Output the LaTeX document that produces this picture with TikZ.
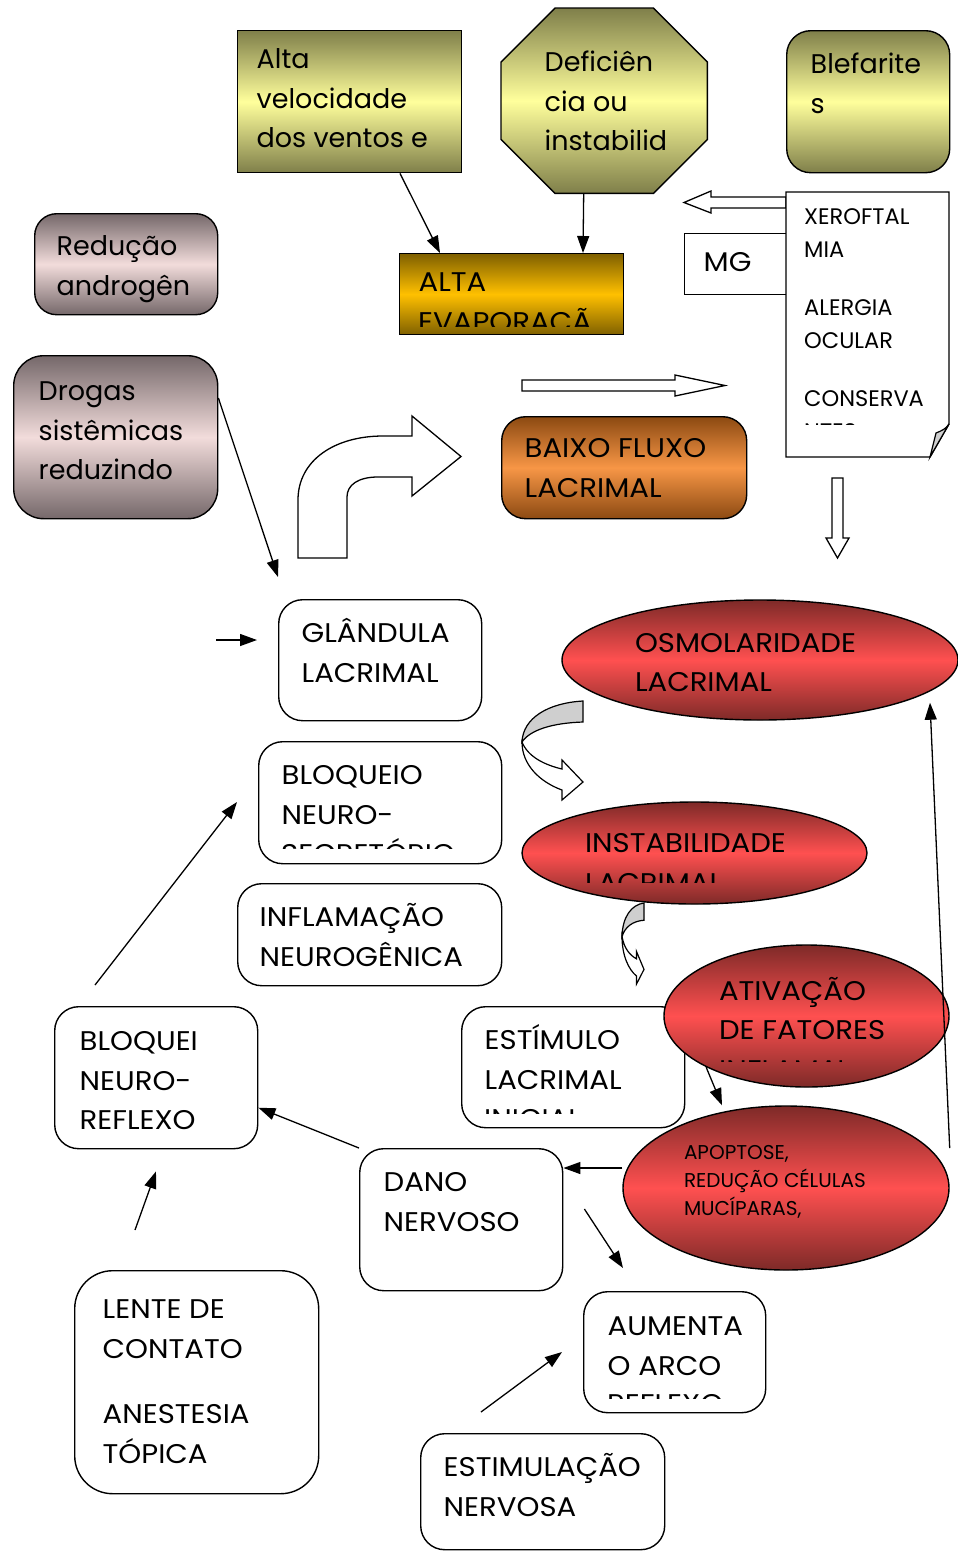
\documentclass[tikz,border=0pt]{standalone}
\usepackage{fontspec}
\setmainfont{Poppins}
\newfontfamily\widefont{Poppins}[FakeStretch=1.08]
\usetikzlibrary{arrows.meta,shapes.geometric,backgrounds}
\definecolor{olvdark}{HTML}{7F7F4A}
\definecolor{olvlight}{HTML}{FFFF9C}
\definecolor{golddark}{HTML}{7F6000}
\definecolor{goldlight}{HTML}{FFC000}
\definecolor{pinkdark}{HTML}{75686A}
\definecolor{pinklight}{HTML}{F2DCDB}
\definecolor{orgdark}{HTML}{8C4A12}
\definecolor{orglight}{HTML}{F79646}
\definecolor{reddark}{HTML}{7E2A28}
\definecolor{redlight}{HTML}{FF5050}
\definecolor{foldgrey}{HTML}{CFCFCF}

\newcommand\fmain{\widefont\fontsize{27}{39.5}\selectfont}
\newcommand\flow{\normalfont\fontsize{27}{39.5}\selectfont}
\newcommand\fdoc{\normalfont\fontsize{22.5}{33}\selectfont}
\newcommand\fapo{\normalfont\fontsize{20}{28}\selectfont}
% text block of a box: [first line height]{width}{height}{lines}
\newcommand\bx[4][30pt]{\parbox[t][#3][t]{#2}{\raggedright\rule{0pt}{#1}#4}}
% a line that the box cuts off: [font]{name}{x}{baseline}{cut}{width}{text}
\newcommand\cutline[7][\fmain]{%
  \begin{scope}
    \clip (#3-4,#4-40) rectangle (#3+#6,#5);
    \node[font=#1,anchor=base west,inner sep=0pt] (#2) at (#3,#4) {#7};
  \end{scope}}
% ribbon arrow that turns back, drawn from its upper end
\newcommand\curlarrow{%
  \filldraw[fill=foldgrey] (0,0) .. controls (-35,2) and (-60,17) .. (-61,41)
     .. controls (-53,29) and (-31,22) .. (0,21) -- cycle;
  \filldraw[fill=white] (-61,41) .. controls (-61,64) and (-43,81) .. (-21,89)
     -- (-21,99) -- (0,81) -- (-21,59) -- (-21,68)
     .. controls (-38,64) and (-55,56) .. (-61,41) -- cycle;}

\begin{document}
\begin{tikzpicture}[x=1pt, y=-1pt, font=\fmain,
    >={Triangle[length=17pt,width=12pt]},
    box/.style={draw=black, line width=1.4pt, anchor=north west, inner sep=0pt},
    rbox/.style={box, rounded corners=24pt},
    oval/.style={ellipse, draw=black, line width=1.4pt, inner sep=0pt,
                 top color=reddark, bottom color=reddark, middle color=redlight},
    filolive/.style={top color=olvdark, bottom color=olvdark, middle color=olvlight},
    filgold/.style={top color=golddark, bottom color=golddark, middle color=goldlight},
    filpink/.style={top color=pinkdark, bottom color=pinkdark, middle color=pinklight},
    filorange/.style={top color=orgdark, bottom color=orgdark, middle color=orglight},
    conn/.style={->, line width=1.3pt},
    blockarr/.style={draw=black, line width=1.3pt, fill=white}]

  \useasboundingbox (0,0) rectangle (958,1551);
  \begin{scope}[on background layer]
    \fill[white] (0,0) rectangle (958,1551);
  \end{scope}

  % ---------------- causes at the top
  \node[box, filolive, font=\flow, inner xsep=19pt, inner ysep=8pt] (vento) at (237,30)
       {\bx{186pt}{126pt}{Alta\\velocidade\\dos~ventos~e}};
  \node[box, draw=none, font=\flow, inner xsep=43pt, inner ysep=33pt] (defic) at (501,8)
       {\bx{119pt}{118pt}{Deficiên\\cia~ou\\instabilid}};
  \begin{scope}[on background layer]
    \shadedraw[filolive, line width=1.4pt]
      ([xshift=54pt]defic.north west) -- ([xshift=-54pt]defic.north east)
      -- ([yshift=-54pt]defic.north east) -- ([yshift=54pt]defic.south east)
      -- ([xshift=-54pt]defic.south east) -- ([xshift=54pt]defic.south west)
      -- ([yshift=54pt]defic.south west) -- ([yshift=-54pt]defic.north west) -- cycle;
  \end{scope}
  \node[rbox, filolive, font=\flow, inner xsep=24pt, inner ysep=13pt] (blefa) at (786,30)
       {\bx{115pt}{116pt}{Blefarite\\s}};

  \node[rbox, rounded corners=22pt, filpink, font=\flow, inner xsep=22pt, inner ysep=12pt] (andro) at (34,213)
       {\bx{139pt}{77pt}{Redução\\androgên}};
  \node[rbox, rounded corners=30pt, filpink, font=\flow, inner xsep=25pt, inner ysep=15pt] (drogas) at (13,355)
       {\bx{154pt}{133pt}{Drogas\\sistêmicas\\reduzindo}};

  \node[box, filgold, inner xsep=19pt, inner ysep=8pt] (evap) at (399,253)
       {\bx{186pt}{65pt}{ALTA}};
  \cutline{evapcut}{418}{331}{326}{200}{EVAPORAÇÃ}

  \node[box, fill=white, inner xsep=19pt, inner ysep=8pt] (mg) at (684,233)
       {\bx{64pt}{45pt}{MG}};

  % ---------------- the page of local causes
  \draw[blockarr] (786,197) -- (711,197) -- (711,191) -- (684,202.5)
       -- (711,213) -- (711,208) -- (786,208) -- cycle;
  \draw[line width=1.4pt, fill=white] (786,192) -- (949,192) -- (949,424)
       -- (930,457) -- (786,457) -- cycle;
  \filldraw[fill=foldgrey, line width=1.2pt] (930,457) -- (936,433)
       .. controls (941,431) and (946,429) .. (949,424) -- cycle;
  \node[anchor=north west, inner xsep=18pt, inner ysep=8pt, font=\fdoc] (docu) at (786,192)
       {\bx[24pt]{127pt}{249pt}{XEROFTAL\\MIA\\[25pt]ALERGIA\\OCULAR\\[25pt]CONSERVA}};
  \cutline[\fdoc]{docucut}{804}{439}{424}{130}{NTES}

  \draw[blockarr] (522,380) -- (675,380) -- (675,375) -- (725,385.5)
       -- (675,396) -- (675,391) -- (522,391) -- cycle;
  \draw[blockarr] (832,478) -- (843,478) -- (843,538) -- (849,538)
       -- (837.5,558) -- (826,538) -- (832,538) -- cycle;
  \draw[blockarr] (298,558) -- (298,500) .. controls (298,460) and (335,436) .. (383,436)
       -- (412,436) -- (412,416) -- (461,456.5) -- (412,496) -- (412,477) -- (378,477)
       .. controls (358,477) and (347,485) .. (347,497) -- (347,558) -- cycle;

  \node[rbox, filorange, inner xsep=23pt, inner ysep=11pt] (fluxo) at (501,416)
       {\bx{199pt}{80pt}{BAIXO~FLUXO\\LACRIMAL}};

  % ---------------- middle
  \node[rbox, fill=white, inner xsep=23pt, inner ysep=13pt] (glan) at (278,599)
       {\bx{157pt}{95pt}{GLÂNDULA\\LACRIMAL}};
  \node[rbox, fill=white, inner xsep=23pt, inner ysep=13pt] (bsecr) at (258,741)
       {\bx{197pt}{96pt}{BLOQUEIO\\NEURO-}};
  \cutline{bsecrcut}{281}{863}{848}{210}{SECRETÓRIO}
  \node[rbox, fill=white, inner xsep=22pt, inner ysep=13pt] (infla) at (237,883)
       {\bx{220pt}{76pt}{INFLAMAÇÃO\\NEUROGÊNICA}};

  \node[oval, minimum width=396pt, minimum height=120pt] (osmo) at (760,660)
       {\bx{250pt}{76pt}{OSMOLARIDADE\\LACRIMAL}};
  \begin{scope}[shift={(583,701)}, line width=1.2pt]
    \curlarrow
  \end{scope}
  \node[oval, minimum width=345pt, minimum height=102pt] (insta) at (694.5,853)
       {\bx{219pt}{62pt}{INSTABILIDADE}};
  \cutline{instacut}{585}{892}{882}{200}{LACRIMAL}
  \begin{scope}[shift={(644,903)}, xscale=0.36, yscale=0.82, line width=1.2pt]
    \curlarrow
  \end{scope}

  \node[rbox, fill=white, inner xsep=23pt, inner ysep=13pt] (estim) at (461,1006)
       {\bx{177pt}{95pt}{ESTÍMULO\\LACRIMAL}};
  \cutline{estimcut}{484}{1128}{1113}{190}{INICIAL}
  \node[oval, minimum width=285pt, minimum height=142pt] (ativa) at (806.5,1016)
       {\bx{175pt}{92pt}{ATIVAÇÃO\\DE~FATORES}};
  \cutline{ativacut}{719}{1079}{1061}{122}{INFLAMATÓRIOS}
  \node[oval, minimum width=326pt, minimum height=164pt, font=\fapo] (apop) at (786,1188)
       {\bx[24pt]{204pt}{106pt}{APOPTOSE,\\REDUÇÃO~CÉLULAS\\MUCÍPARAS,}};

  % ---------------- bottom
  \node[rbox, fill=white, inner xsep=25pt, inner ysep=14pt] (brefl) at (54,1006)
       {\bx{153pt}{114pt}{BLOQUEI\\NEURO-\\REFLEXO}};
  \node[rbox, fill=white, inner xsep=24pt, inner ysep=13pt] (dano) at (359,1148)
       {\bx{155pt}{116pt}{DANO\\NERVOSO}};
  \node[rbox, fill=white, inner xsep=24pt, inner ysep=14pt] (aumen) at (583,1291)
       {\bx{134pt}{93pt}{AUMENTA\\O~ARCO}};
  \cutline{aumencut}{607}{1413}{1398}{150}{REFLEXO}
  \node[rbox, fill=white, inner xsep=23pt, inner ysep=13pt] (estnerv) at (420,1433)
       {\bx{198pt}{90pt}{ESTIMULAÇÃO\\NERVOSA}};
  \node[rbox, rounded corners=38pt, fill=white, inner xsep=28pt, inner ysep=18pt] (lente) at (74,1270)
       {\bx{188pt}{187pt}{LENTE~DE\\CONTATO\\[26pt]ANESTESIA\\TÓPICA}};

  % ---------------- connectors
  \coordinate (glanin) at (216,640);
  \draw[conn] ([xshift=163pt]vento.south west) -- ([xshift=41pt]evap.north west);
  \draw[conn] ([xshift=-20.5pt]defic.south) -- ([xshift=184pt]evap.north west);
  \draw[conn] ([yshift=-43pt]drogas.north east) -- ([yshift=22pt]glan.north west);
  \draw[conn] (glanin) -- ([xshift=-21pt,yshift=-41pt]glan.north west);
  \draw[conn] ([xshift=41pt,yshift=21pt]brefl.north west) -- ([xshift=-21pt,yshift=-61pt]bsecr.north west);
  \draw[conn] (dano.north west) -- ([yshift=-30pt]brefl.east);
  \draw[conn] ([xshift=61pt,yshift=40pt]lente.north west) -- ([xshift=102pt,yshift=-22pt]brefl.south west);
  \draw[conn] ([yshift=20pt]apop.west) -- ([yshift=-20pt]dano.north east);
  \draw[conn] ([xshift=21pt,yshift=-61pt]dano.north east) -- ([xshift=40pt,yshift=23pt]aumen.north west);
  \draw[conn] ([xshift=61pt,yshift=21pt]estnerv.north west) -- ([xshift=-21pt,yshift=-61pt]aumen.north west);
  \draw[conn] (ativa.207) -- ([xshift=-64pt]apop.north);
  \draw[conn] ([yshift=40pt]apop.east) -- ([xshift=170pt,yshift=18pt]osmo.south);
\end{tikzpicture}
\end{document}
